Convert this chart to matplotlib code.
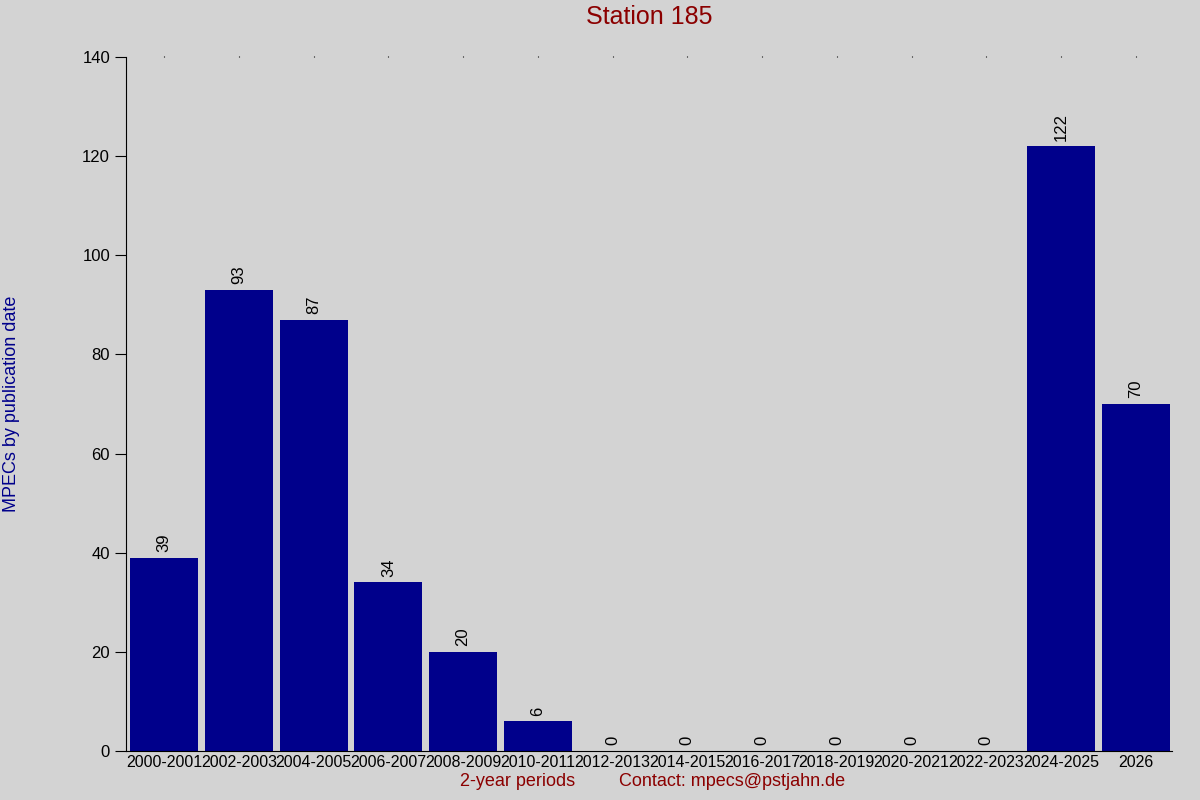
"""Station 185 MPEC counts per 2-year period."""

import matplotlib
matplotlib.use('Agg')
import matplotlib.pyplot as plt

PERIODS = ['2000-2001', '2002-2003', '2004-2005', '2006-2007', '2008-2009',
           '2010-2011', '2012-2013', '2014-2015', '2016-2017', '2018-2019',
           '2020-2021', '2022-2023', '2024-2025', '2026']
COUNTS = [39, 93, 87, 34, 20, 6, 0, 0, 0, 0, 0, 0, 122, 70]
Y_TICKS = [0, 20, 40, 60, 80, 100, 120, 140]

BG = '#d3d3d3'
BAR = '#00008b'
RED = '#8b0000'


def main():
    plt.rcParams['font.family'] = ['Liberation Sans', 'DejaVu Sans']

    fig = plt.figure(figsize=(12, 8), dpi=100, facecolor=BG)
    ax = fig.add_axes([0.105, 0.06125, 0.872, 0.8675])
    ax.set_facecolor(BG)

    xs = list(range(len(PERIODS)))
    ax.bar(xs, COUNTS, width=0.91, color=BAR)
    for x, c in zip(xs, COUNTS):
        ax.annotate(str(c), (x, c), xytext=(0, 4), textcoords='offset points',
                    rotation=90, ha='center', va='bottom', fontsize=12)

    ax.set_xlim(-0.51, 13.49)
    ax.set_ylim(0, 140)
    ax.set_xticks(xs)
    ax.set_xticklabels(PERIODS, fontsize=11.5)
    ax.set_yticks(Y_TICKS)
    ax.tick_params(axis='y', labelsize=12, length=8, direction='out')
    ax.tick_params(axis='x', length=0, pad=3, top=True, labeltop=False)
    for t in ax.xaxis.get_major_ticks():
        t.tick2line.set_markersize(1)

    for side in ['top', 'right']:
        ax.spines[side].set_visible(False)

    ax.set_title('Station 185', color=RED, fontsize=18, pad=24)
    ax.set_ylabel('MPECs by publication date', color=BAR, fontsize=13, labelpad=45)
    fig.text(0.431, 0.0175, '2-year periods', color=RED, fontsize=13, ha='center')
    fig.text(0.61, 0.0175, 'Contact: mpecs@pstjahn.de', color=RED, fontsize=13, ha='center')

    fig.savefig('out.png', facecolor=BG)
    plt.close()


if __name__ == '__main__':
    main()
